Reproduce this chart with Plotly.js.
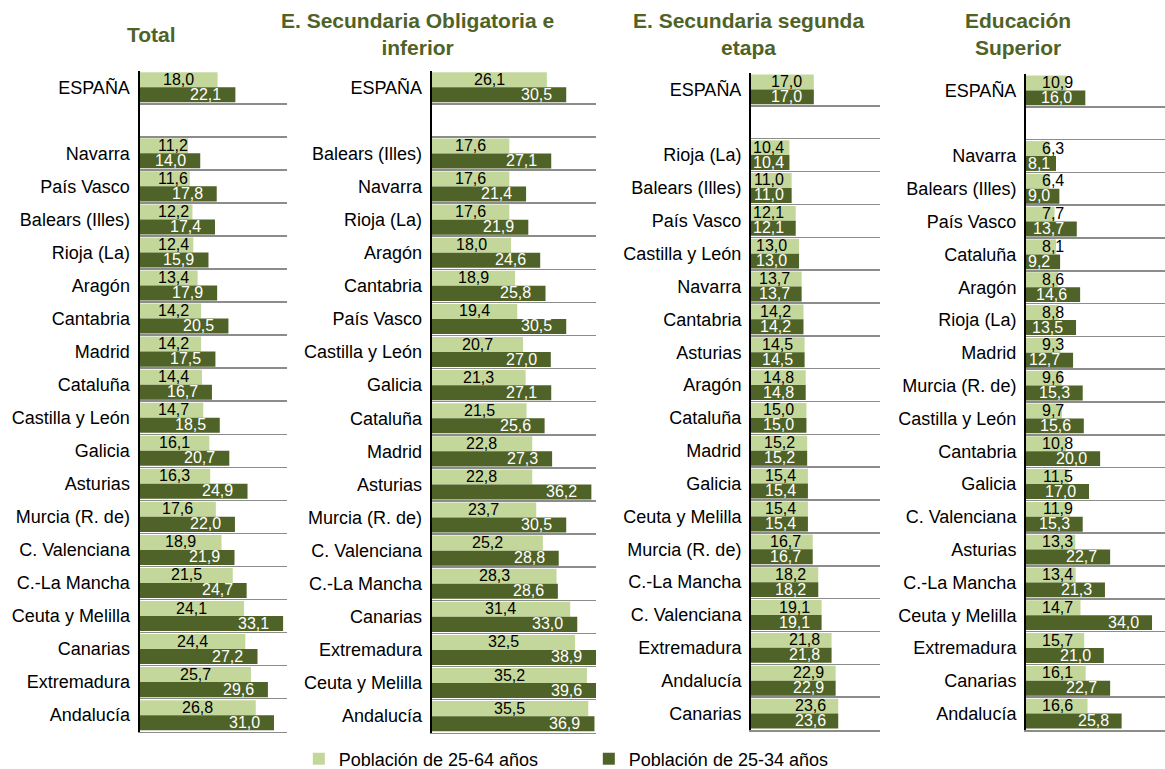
<!DOCTYPE html>
<html>
<head>
<meta charset="utf-8">
<script src="https://cdn.plot.ly/plotly-3.0.1.min.js"></script>
<style>html,body{margin:0;padding:0;background:#fff;}#chart{width:1165px;height:769px;}</style>
</head>
<body>
<div id="chart"></div>
<script>
// ---------- DATA ----------
const serieJoven = 'Población de 25-34 años';
const serieTotal = 'Población de 25-64 años';

const titulos = ['Total', 'E. Secundaria Obligatoria e<br>inferior', 'E. Secundaria segunda<br>etapa', 'Educación<br>Superior'];

// Panel 1: Total
const catTotal = ['ESPAÑA', ' ', 'Navarra', 'País Vasco', 'Balears (Illes)', 'Rioja (La)', 'Aragón', 'Cantabria', 'Madrid', 'Cataluña', 'Castilla y León', 'Galicia', 'Asturias', 'Murcia (R. de)', 'C. Valenciana', 'C.-La Mancha', 'Ceuta y Melilla', 'Canarias', 'Extremadura', 'Andalucía'];
const total2564 = [18.0, null, 11.2, 11.6, 12.2, 12.4, 13.4, 14.2, 14.2, 14.4, 14.7, 16.1, 16.3, 17.6, 18.9, 21.5, 24.1, 24.4, 25.7, 26.8];
const total2534 = [22.1, null, 14.0, 17.8, 17.4, 15.9, 17.9, 20.5, 17.5, 16.7, 18.5, 20.7, 24.9, 22.0, 21.9, 24.7, 33.1, 27.2, 29.6, 31.0];

// Panel 2: E. Secundaria Obligatoria e inferior
const catObligatoria = ['ESPAÑA', ' ', 'Balears (Illes)', 'Navarra', 'Rioja (La)', 'Aragón', 'Cantabria', 'País Vasco', 'Castilla y León', 'Galicia', 'Cataluña', 'Madrid', 'Asturias', 'Murcia (R. de)', 'C. Valenciana', 'C.-La Mancha', 'Canarias', 'Extremadura', 'Ceuta y Melilla', 'Andalucía'];
const oblig2564 = [26.1, null, 17.6, 17.6, 17.6, 18.0, 18.9, 19.4, 20.7, 21.3, 21.5, 22.8, 22.8, 23.7, 25.2, 28.3, 31.4, 32.5, 35.2, 35.5];
const oblig2534 = [30.5, null, 27.1, 21.4, 21.9, 24.6, 25.8, 30.5, 27.0, 27.1, 25.6, 27.3, 36.2, 30.5, 28.8, 28.6, 33.0, 38.9, 39.6, 36.9];

// Panel 3: E. Secundaria segunda etapa
const catSegunda = ['ESPAÑA', ' ', 'Rioja (La)', 'Balears (Illes)', 'País Vasco', 'Castilla y León', 'Navarra', 'Cantabria', 'Asturias', 'Aragón', 'Cataluña', 'Madrid', 'Galicia', 'Ceuta y Melilla', 'Murcia (R. de)', 'C.-La Mancha', 'C. Valenciana', 'Extremadura', 'Andalucía', 'Canarias'];
const segunda2564 = [17.0, null, 10.4, 11.0, 12.1, 13.0, 13.7, 14.2, 14.5, 14.8, 15.0, 15.2, 15.4, 15.4, 16.7, 18.2, 19.1, 21.8, 22.9, 23.6];
const segunda2534 = [17.0, null, 10.4, 11.0, 12.1, 13.0, 13.7, 14.2, 14.5, 14.8, 15.0, 15.2, 15.4, 15.4, 16.7, 18.2, 19.1, 21.8, 22.9, 23.6];

// Panel 4: Educación Superior
const catSuperior = ['ESPAÑA', ' ', 'Navarra', 'Balears (Illes)', 'País Vasco', 'Cataluña', 'Aragón', 'Rioja (La)', 'Madrid', 'Murcia (R. de)', 'Castilla y León', 'Cantabria', 'Galicia', 'C. Valenciana', 'Asturias', 'C.-La Mancha', 'Ceuta y Melilla', 'Extremadura', 'Canarias', 'Andalucía'];
const superior2564 = [10.9, null, 6.3, 6.4, 7.7, 8.1, 8.6, 8.8, 9.3, 9.6, 9.7, 10.8, 11.5, 11.9, 13.3, 13.4, 14.7, 15.7, 16.1, 16.6];
const superior2534 = [16.0, null, 8.1, 9.0, 13.7, 9.2, 14.6, 13.5, 12.7, 15.3, 15.6, 20.0, 17.0, 15.3, 22.7, 21.3, 34.0, 21.0, 22.7, 25.8];

// ---------- STYLE / LAYOUT ----------
const W = 1165, H = 769;
const FONT = 'Liberation Sans, Arial, sans-serif';
const C_LIGHT = '#c4d79b', C_DARK = '#4f6228', C_TITLE = '#4f6228';
const C_GRID = '#8c8c8c';

const panels = [
  {cats: catTotal, a: total2564, b: total2534, x0: 139.5, x1: 287, y0: 70.7, y1: 731.7, max: 34.0, padDark: 14, minLeftLight: 18, minLeftDark: 3, allEnd: false, tx: 151},
  {cats: catObligatoria, a: oblig2564, b: oblig2534, x0: 431.7, x1: 596, y0: 70.7, y1: 732.7, max: 37.25, padDark: 14, minLeftLight: 18, minLeftDark: 3, allEnd: false, tx: 417},
  {cats: catSegunda, a: segunda2564, b: segunda2534, x0: 751, x1: 880, y0: 73, y1: 730, max: 34.9, padDark: 12, minLeftLight: 2, minLeftDark: 2, allEnd: true, tx: 748},
  {cats: catSuperior, a: superior2564, b: superior2534, x0: 1026, x1: 1165, y0: 74, y1: 730, max: 37.5, padDark: 13, minLeftLight: 16, minLeftDark: 2, allEnd: false, tx: 1018}
];

const LBL = 16;
function fmt(v) { return v.toFixed(1).replace('.', ','); }
function textW(s) { let w = 0; for (const ch of s) w += (ch === ',' ? 0.278 : 0.556); return w * LBL; }
function labelX(v, p, dark) {
  const ppu = (p.x1 - p.x0) / p.max;
  const s = fmt(v);
  const w = textW(s);
  const endPx = Math.min(v, p.max) * ppu;
  let c;
  if (dark || p.allEnd) {
    let right = endPx - p.padDark;
    const minL = dark ? p.minLeftDark : p.minLeftLight;
    if (right - w < minL) right = minL + w;
    c = right - w / 2;
  } else {
    c = endPx / 2;
    if (c - w / 2 < p.minLeftLight) c = p.minLeftLight + w / 2;
  }
  return c / ppu;
}

const data = [];
const annotations = [];
const layout = {
  width: W, height: H,
  margin: {l: 0, r: 0, t: 0, b: 0, autoexpand: false},
  paper_bgcolor: '#fff', plot_bgcolor: 'rgba(0,0,0,0)',
  barmode: 'group', bargap: 0.09, bargroupgap: 0,
  font: {family: FONT, color: '#000'},
  showlegend: true,
  legend: {orientation: 'h', x: 0.2565, xanchor: 'left', y: 1 - 759 / H, yanchor: 'middle',
           font: {family: FONT, size: 18, color: '#000'}, entrywidth: 245, traceorder: 'normal', bgcolor: 'rgba(0,0,0,0)'},
  annotations: annotations
};

panels.forEach((p, i) => {
  const n = i + 1;
  const xid = n === 1 ? 'x' : 'x' + n;
  const yid = n === 1 ? 'y' : 'y' + n;
  const xk = n === 1 ? 'xaxis' : 'xaxis' + n;
  const yk = n === 1 ? 'yaxis' : 'yaxis' + n;
  data.push({type: 'bar', orientation: 'h', name: serieTotal, x: p.a, y: p.cats, xaxis: xid, yaxis: yid,
             marker: {color: C_LIGHT, line: {width: 0}}, showlegend: n === 1, legendgroup: 'a', hoverinfo: 'skip'});
  data.push({type: 'bar', orientation: 'h', name: serieJoven, x: p.b, y: p.cats, xaxis: xid, yaxis: yid,
             marker: {color: C_DARK, line: {width: 0}}, showlegend: n === 1, legendgroup: 'b', hoverinfo: 'skip'});
  layout[xk] = {domain: [p.x0 / W, p.x1 / W], range: [0, p.max], anchor: yid, showgrid: false, zeroline: false,
                showticklabels: false, ticks: '', showline: true, linecolor: C_GRID, linewidth: 1.5, fixedrange: true};
  layout[yk] = {domain: [1 - p.y1 / H, 1 - p.y0 / H], anchor: xid, type: 'category', categoryorder: 'array',
                categoryarray: p.cats, range: [p.cats.length - 0.5, -0.5], tickson: 'boundaries',
                showgrid: true, gridcolor: C_GRID, gridwidth: 1.5, showline: true, linecolor: '#000', linewidth: 2,
                ticks: '', ticklabelstandoff: 4, tickfont: {family: FONT, size: 18, color: '#000'}, fixedrange: true};
  p.cats.forEach((c, k) => {
    if (p.a[k] != null) annotations.push({xref: xid, yref: yid, x: labelX(p.a[k], p, false), y: k, yshift: 8,
      text: fmt(p.a[k]), showarrow: false, xanchor: 'center', yanchor: 'middle', font: {family: FONT, size: LBL, color: '#000'}});
    if (p.b[k] != null) annotations.push({xref: xid, yref: yid, x: labelX(p.b[k], p, true), y: k, yshift: -7,
      text: fmt(p.b[k]), showarrow: false, xanchor: 'center', yanchor: 'middle', font: {family: FONT, size: LBL, color: '#fff'}});
  });
  annotations.push({xref: 'paper', yref: 'paper', x: p.tx / W, y: 1 - 34.5 / H, xanchor: 'center', yanchor: 'middle',
    text: '<b>' + titulos[i] + '</b>', showarrow: false, align: 'center', font: {family: FONT, size: 21, color: C_TITLE}});
});

Plotly.newPlot('chart', data, layout, {staticPlot: true, displayModeBar: false});
</script>
</body>
</html>
